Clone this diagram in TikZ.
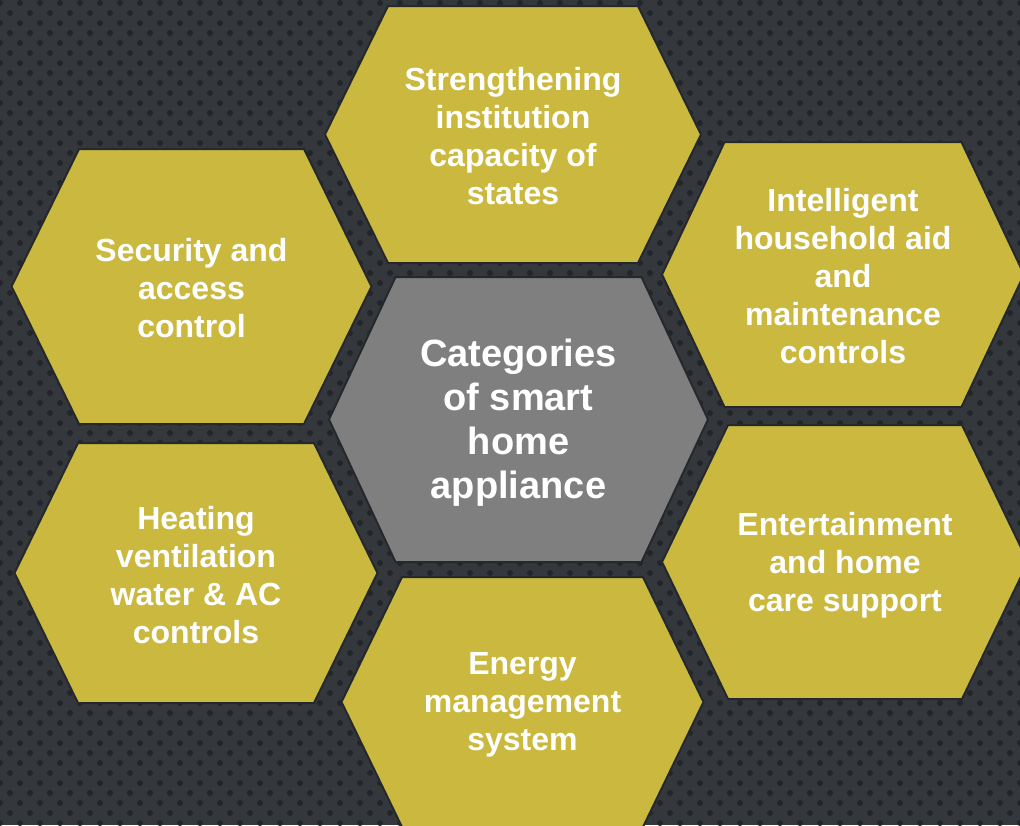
\documentclass[tikz,border=0pt]{standalone}
\usepackage{fontspec}
\setmainfont{Liberation Sans}
\definecolor{plate}{HTML}{34373C}
\definecolor{platehole}{HTML}{22252A}
\definecolor{hexgold}{HTML}{CAB93E}
\definecolor{hubgray}{HTML}{7F7F7F}
\definecolor{hexedge}{HTML}{25282D}
% flat-topped hexagon: centre x, centre y, half width, half height, half top edge, style
\newcommand\honeycell[6]{%
  \path[#6] ({#1-#3},{#2}) -- ({#1-#5},{#2-#4}) -- ({#1+#5},{#2-#4})
    -- ({#1+#3},{#2}) -- ({#1+#5},{#2+#4}) -- ({#1-#5},{#2+#4}) -- cycle;}
\begin{document}
\begin{tikzpicture}[x=1pt,y=-1pt,
  cell/.style={fill=hexgold, draw=hexedge, line width=2pt, line join=miter},
  hub/.style={fill=hubgray, draw=hexedge, line width=2pt, line join=miter},
  celltext/.style={text=white, align=center, inner sep=0pt,
    font=\fontsize{32}{38}\selectfont\bfseries},
  hubtext/.style={text=white, align=center, inner sep=0pt,
    font=\fontsize{38}{44}\selectfont\bfseries}]
\useasboundingbox (0,0) rectangle (1020,825);
\clip (0,0) rectangle (1020,825);
% perforated metal backdrop
\fill[plate] (0,0) rectangle (1020,825);
\foreach \r in {0,...,83}{%
  \pgfmathsetmacro\off{mod(\r,2)*10}
  \foreach \c in {0,...,51}{%
    \fill[platehole] ({\c*20+\off},{\r*10+3}) circle (3);
  }
}
% honeycomb cells
\honeycell{513}{134.5}{188}{128.5}{125}{cell}
\honeycell{191.5}{286.5}{180}{137.5}{112.5}{cell}
\honeycell{196}{573}{181.5}{130}{118}{cell}
\honeycell{843}{274.5}{181}{132.5}{118.5}{cell}
\honeycell{845}{562}{183}{137}{117}{cell}
\honeycell{522.5}{702}{181}{125}{120.5}{cell}
\honeycell{518.5}{419.5}{189.5}{142.5}{123}{hub}
% labels
\node[hubtext] (hub) at (518.5,423) {Categories\\of smart\\home\\appliance};
\node[celltext] (capacity) at (513,136) {Strengthening\\institution\\capacity of\\states};
\node[celltext] (security) at (191.5,288) {Security and\\access\\control};
\node[celltext] (hvac) at (196,575) {Heating\\ventilation\\water \& AC\\controls};
\node[celltext] (household) at (843,276) {Intelligent\\household aid\\and\\maintenance\\controls};
\node[celltext] (entertain) at (845,565) {Entertainment\\and home\\care support};
\node[celltext] (energy) at (522.5,705) {Energy\\management\\system};
\end{tikzpicture}
\end{document}
